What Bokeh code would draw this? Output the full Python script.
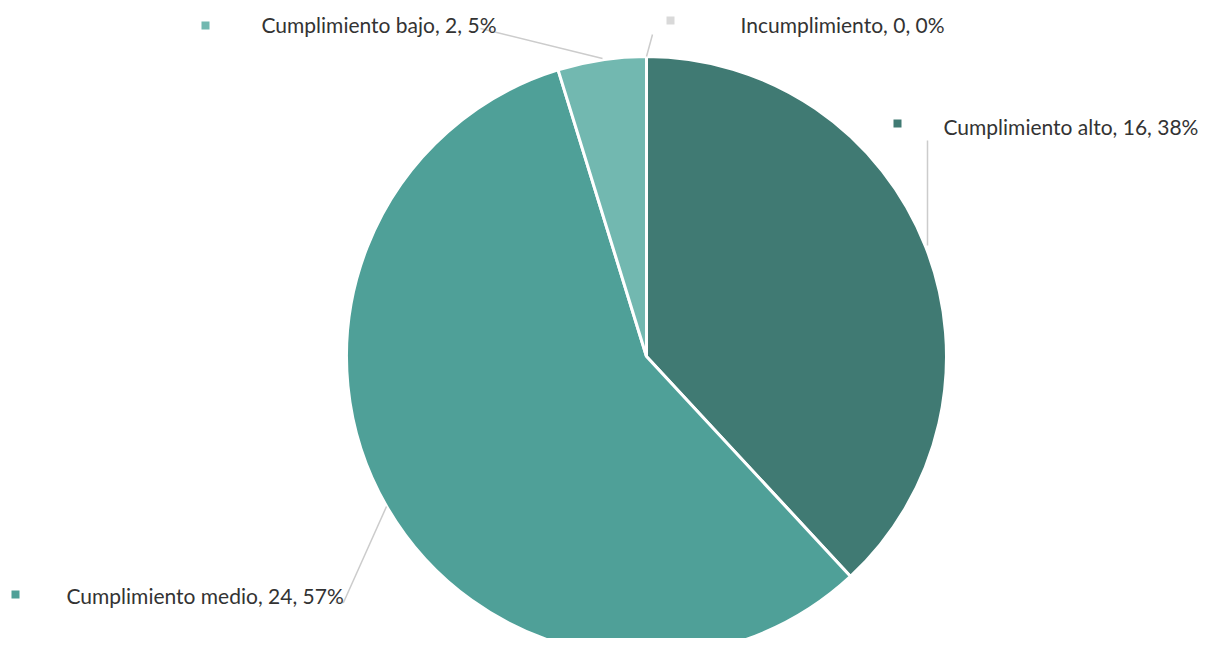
import numpy as np
from bokeh.plotting import figure
from bokeh.models import Range1d, ColumnDataSource
from bokeh.core.properties import value
from bokeh.embed import file_html
from bokeh.resources import INLINE

categories = ["Cumplimiento alto", "Cumplimiento medio", "Cumplimiento bajo", "Incumplimiento"]
counts = [16, 24, 2, 0]
colors = ["#407a73", "#4fa098", "#72b8b0", "#d9d9d9"]

W, H = 1206, 638
p = figure(width=W, height=H, output_backend="svg", toolbar_location=None,
           x_range=Range1d(0, W), y_range=Range1d(654 - H, 654), min_border=0)
p.axis.visible = False
p.grid.visible = False
p.outline_line_color = None
p.background_fill_color = "white"

# data y = 654 - image y
def iy(y):
    return 654 - y

cx, cy, r = 646, iy(356), 300
total = sum(counts)
fr = np.array(counts) / total
cum = np.concatenate([[0], np.cumsum(fr)]) * 2 * np.pi
starts = np.pi / 2 - cum[:-1]
ends = np.pi / 2 - cum[1:]

mask = [c > 0 for c in counts]
src = ColumnDataSource(dict(
    start=[s for s, m in zip(starts, mask) if m],
    end=[e for e, m in zip(ends, mask) if m],
    color=[c for c, m in zip(colors, mask) if m],
))
p.wedge(x=cx, y=cy, radius=r, start_angle="start", end_angle="end", direction="clock",
        fill_color="color", line_color="white", line_width=3, source=src)

labels = [f"{c}, {v}, {round(100 * v / total)}%" for c, v in zip(categories, counts)]

# leader lines (layout)
lx = [[927, 927], [386, 343, 335], [480, 602], [646, 652]]
ly = [[iy(140), iy(245)], [iy(506), iy(602), iy(602)], [iy(28), iy(58)], [iy(56), iy(34)]]
p.multi_line(xs=lx, ys=ly, line_color="#cccccc", line_width=1.5)

mx = [897, 15, 205, 670]
my = [iy(123), iy(594), iy(25), iy(20)]
p.scatter(x=mx, y=my, marker="square", size=8, fill_color=colors, line_color=None)

tx = [943, 66, 261, 740]
ty = [iy(126), iy(595), iy(24), iy(24)]
p.text(x=tx, y=ty, text=labels, text_font=value("Lato"), text_font_size="21px",
       text_color="#333333", text_baseline="middle", text_align="left")

open("out.html", "w").write(file_html(p, INLINE))
